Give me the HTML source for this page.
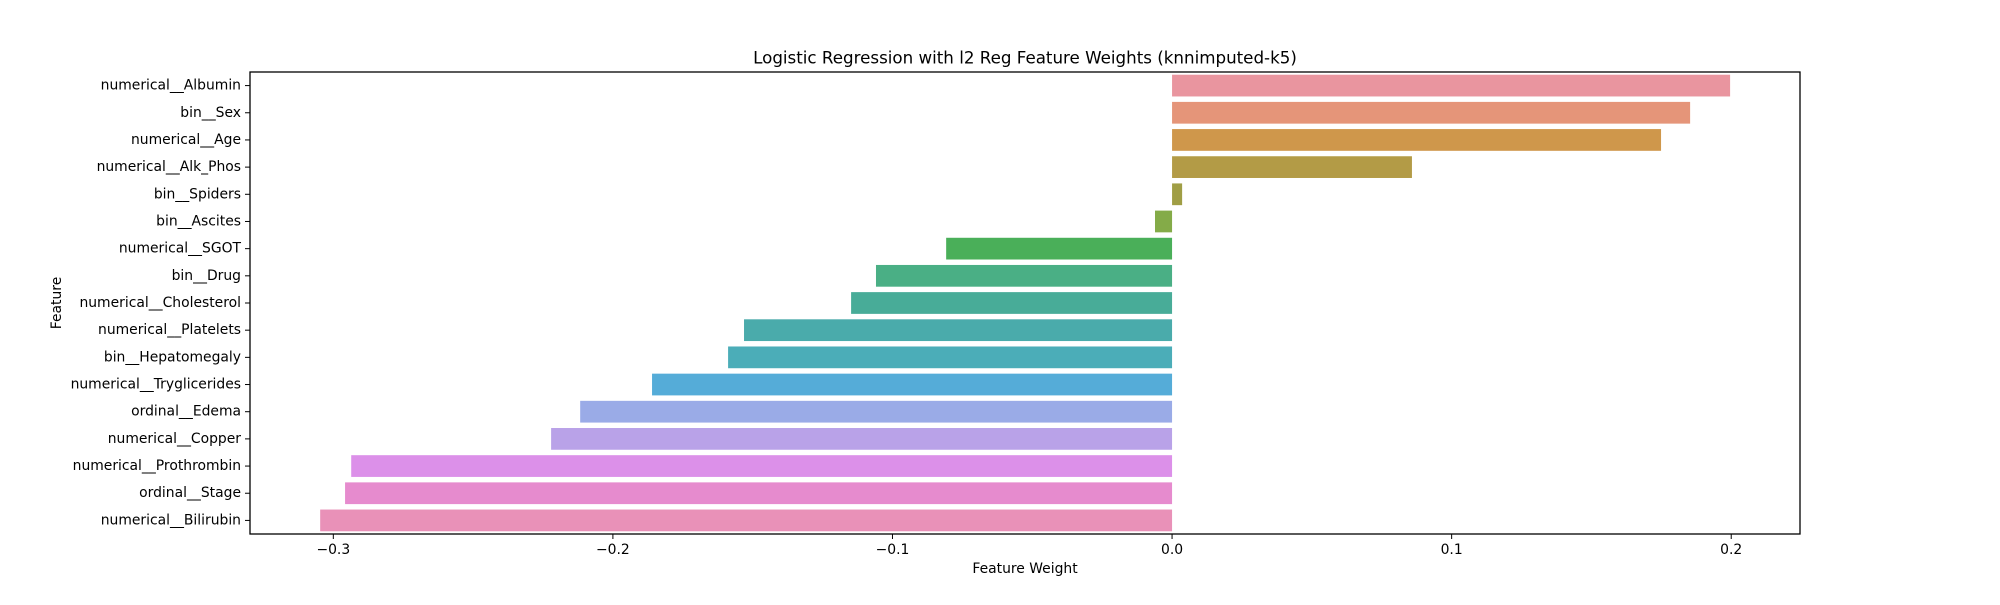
<!DOCTYPE html>
<html><head><meta charset="utf-8"><style>
body{margin:0;background:#fff;}
svg text{font-family:"DejaVu Sans","Liberation Sans",sans-serif;fill:#000;}
</style></head><body>
<svg id="chart" width="2000" height="600" xmlns="http://www.w3.org/2000/svg">
<rect width="2000" height="600" fill="#fff"/>
<text x="1025" y="59" font-size="16.7" text-anchor="middle" dominant-baseline="middle">Logistic Regression with l2 Reg Feature Weights (knnimputed-k5)</text>
<text x="1025" y="569" font-size="13.9" text-anchor="middle" dominant-baseline="middle">Feature Weight</text>
<text x="0" y="0" font-size="13.9" text-anchor="middle" dominant-baseline="middle" transform="translate(57,303) rotate(-90)">Feature</text>
<g id="bars"></g><g id="ticks"></g>
<rect x="250" y="72" width="1550" height="462" fill="none" stroke="#000" stroke-width="1.3"/>
</svg>
<script>
const categories=["numerical__Albumin","bin__Sex","numerical__Age","numerical__Alk_Phos","bin__Spiders","bin__Ascites","numerical__SGOT","bin__Drug","numerical__Cholesterol","numerical__Platelets","bin__Hepatomegaly","numerical__Tryglicerides","ordinal__Edema","numerical__Copper","numerical__Prothrombin","ordinal__Stage","numerical__Bilirubin"];
const values=[0.1996,0.1853,0.1749,0.0858,0.0036,-0.0061,-0.0808,-0.1059,-0.1148,-0.1531,-0.1588,-0.186,-0.2117,-0.2221,-0.2936,-0.2958,-0.3047];
const colors=["#e9959f","#e59579","#cf974b","#b39b46","#a09e45","#84ab48","#4aaf59","#4aaf85","#48ac98","#4aabab","#4badb8","#55acd8","#9aabe7","#b9a2e8","#dc90e9","#e68bce","#e991b8"];
const xTicks=[-0.3,-0.2,-0.1,0.0,0.1,0.2];
const xTickLabels=["\u22120.3","\u22120.2","\u22120.1","0.0","0.1","0.2"];
const L=250,R=1800,T=72,B=534,xmin=-0.3298,xmax=0.2246;
const NS="http://www.w3.org/2000/svg";
function xs(v){return L+(v-xmin)/(xmax-xmin)*(R-L);}
function yc(i){const h=(B-T)/categories.length;return T+h*(i+0.5);}
const bh=(B-T)/categories.length*0.8;
const bars=document.getElementById('bars'),ticks=document.getElementById('ticks');
function mk(t,a,p){const e=document.createElementNS(NS,t);for(const k in a)e.setAttribute(k,a[k]);p.appendChild(e);return e;}
categories.forEach((c,i)=>{
  const x0=xs(0),x1=xs(values[i]);
  const r=mk('rect',{x:Math.min(x0,x1),y:yc(i)-bh/2,width:Math.abs(x1-x0),height:bh,fill:colors[i]},bars);
  
  
  const tk=mk('line',{x1:L,x2:L-5,y1:yc(i),y2:yc(i),stroke:'#000','stroke-width':1},ticks);
  
  
  const t=mk('text',{x:L-9,y:yc(i),'font-size':13.9,'text-anchor':'end','dominant-baseline':'middle'},ticks);
  t.textContent=c;
  
  
});
xTicks.forEach((v,i)=>{
  const x=xs(v);
  const tk=mk('line',{x1:x,x2:x,y1:B,y2:B+5,stroke:'#000','stroke-width':1},ticks);
  
  
  const t=mk('text',{x:x,y:B+16,'font-size':13.9,'text-anchor':'middle','dominant-baseline':'middle'},ticks);
  t.textContent=xTickLabels[i];
  
  
});
</script>
</body></html>
